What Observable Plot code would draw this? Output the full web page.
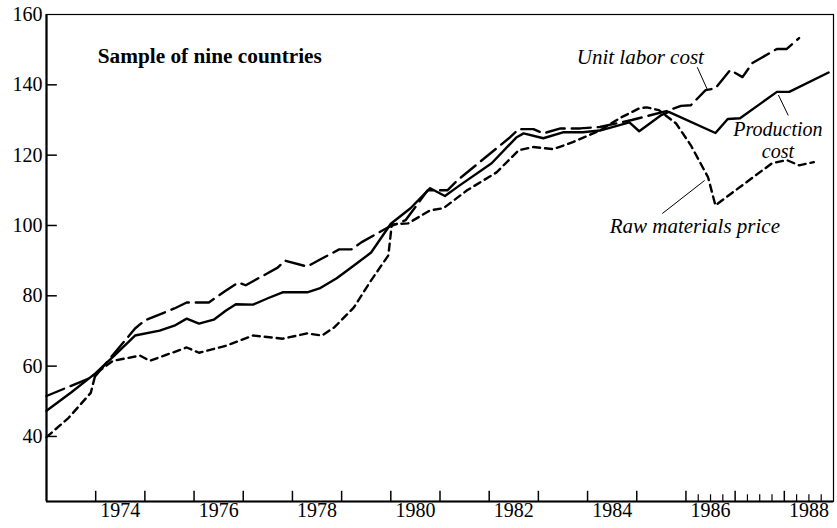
<!DOCTYPE html>
<html>
<head>
<meta charset="utf-8">
<script src="https://cdn.jsdelivr.net/npm/d3@7"></script>
<script src="https://cdn.jsdelivr.net/npm/@observablehq/plot@0.6"></script>
<style>
  html, body { margin: 0; padding: 0; background: #fff; }
</style>
</head>
<body>
<div id="chart"></div>
<script>
// ---- Data (decimal years, index values) ----
const prodT = [1973.0, 1973.5, 1974.0, 1974.4, 1974.8, 1975.3, 1975.6, 1975.85, 1976.1, 1976.4, 1976.65, 1976.85, 1977.2, 1977.5, 1977.8, 1978.3, 1978.55, 1978.9, 1979.25, 1979.6, 1980.0, 1980.4, 1980.8, 1981.1, 1981.4, 1982.05, 1982.55, 1982.7, 1983.1, 1983.5, 1983.9, 1984.25, 1984.85, 1985.05, 1985.5, 1985.65, 1986.6, 1986.85, 1987.1, 1987.85, 1988.1, 1988.9];
const prodV = [47.3, 52.5, 58, 63.3, 68.7, 70.1, 71.5, 73.5, 72.1, 73.2, 75.8, 77.6, 77.5, 79.3, 81, 81, 82.1, 85, 88.6, 92.3, 100.5, 104.9, 110.6, 108.4, 111.4, 117.7, 125, 126.2, 124.8, 126.5, 126.5, 127, 129.3, 126.8, 131.4, 132.3, 126.3, 130.3, 130.5, 138, 138, 143.5];

const laborT = [1973.0, 1974.0, 1974.8, 1975.0, 1975.6, 1975.85, 1976.3, 1976.65, 1976.9, 1977.05, 1977.7, 1977.85, 1978.3, 1978.6, 1978.95, 1979.2, 1979.4, 1979.95, 1980.3, 1980.75, 1981.15, 1981.35, 1982.4, 1982.6, 1982.9, 1983.1, 1983.45, 1983.85, 1984.25, 1984.9, 1985.6, 1985.9, 1986.1, 1986.4, 1986.6, 1986.9, 1987.15, 1987.35, 1987.85, 1988.05, 1988.3];
const laborV = [51.5, 57.3, 70.7, 73, 76.4, 78.1, 78.1, 81.5, 83.8, 83, 88, 90, 88.3, 90.6, 93.2, 93.2, 95.2, 99.5, 101.5, 110, 110, 112.8, 124.8, 127.4, 127.4, 126.2, 127.6, 127.6, 128, 130, 132.5, 134, 134.2, 138.5, 139, 144.2, 142.2, 146.2, 150.2, 150.2, 153.3];

const rawT = [1973.0, 1973.45, 1973.9, 1974.0, 1974.35, 1974.9, 1975.1, 1975.85, 1976.1, 1976.65, 1977.2, 1977.8, 1978.3, 1978.6, 1978.85, 1979.25, 1979.6, 1979.95, 1980.02, 1980.35, 1980.8, 1981.07, 1981.55, 1982.15, 1982.6, 1982.9, 1983.3, 1983.7, 1984.25, 1984.65, 1985.05, 1985.2, 1985.45, 1985.8, 1986.1, 1986.45, 1986.6, 1986.95, 1987.75, 1988.05, 1988.3, 1988.6];
const rawV = [39.8, 45.3, 52.4, 57.9, 61.5, 63, 61.5, 65.3, 63.8, 65.8, 68.7, 67.8, 69.3, 68.7, 71, 76.7, 84.4, 91.5, 100.3, 100.6, 104.3, 104.9, 110, 115.1, 121.4, 122.3, 121.7, 123.7, 127, 130.5, 133.3, 133.6, 132.8, 129, 122.8, 113.7, 105.7, 109.4, 117.7, 118.6, 117.1, 118];

const yTicks = [40, 60, 80, 100, 120, 140, 160];
const xLabelYears = [1974, 1976, 1978, 1980, 1982, 1984, 1986, 1988];
const majorTickYears = [1974, 1975, 1976, 1977, 1978, 1979, 1980, 1981, 1982, 1983, 1984, 1985, 1986, 1987, 1988];
const minorTickYears = [1986.25, 1986.5, 1986.75, 1987.25, 1987.5, 1987.75, 1988.25, 1988.5, 1988.75];

// annotations (data coordinates)
const annotations = [
  {x: 1974.04, y: 146.2, text: "Sample of nine countries", weight: "bold", style: "normal", size: 21.3, anchor: "start", lh: 1},
  {x: 1983.78, y: 145.9, text: "Unit labor cost", weight: "normal", style: "italic", size: 21, anchor: "start", lh: 1},
  {x: 1987.87, y: 119.3, text: "Production\ncost", weight: "normal", style: "italic", size: 20, anchor: "middle", lh: 1.1},
  {x: 1984.45, y: 97.75, text: "Raw materials price", weight: "normal", style: "italic", size: 21, anchor: "start", lh: 1}
];
const leaders = [
  {x1: 1986.23, y1: 145.0, x2: 1986.44, y2: 138.5},
  {x1: 1988.08, y1: 131.3, x2: 1987.88, y2: 137.1},
  {x1: 1985.52, y1: 103.4, x2: 1986.38, y2: 112.8}
];

const X0 = 1973, X1 = 1989, Y0 = 21.5, Y1 = 160;

const toRows = (T, V) => T.map((t, i) => ({t, v: V[i]}));
const prod = toRows(prodT, prodV);
const labor = toRows(laborT, laborV);
const raw = toRows(rawT, rawV);

const font = "'Liberation Serif', 'Times New Roman', serif";

const chart = Plot.plot({
  width: 837,
  height: 528,
  marginLeft: 46,
  marginRight: 4,
  marginTop: 14,
  marginBottom: 27,
  style: {fontFamily: font, fontSize: "17px", color: "#000", background: "#fff"},
  x: {domain: [X0, X1]},
  y: {domain: [Y0, Y1]},
  marks: [
    // axis labels
    Plot.axisY({ticks: yTicks, tickSize: 0, tickPadding: 4, fontSize: 20, label: null}),
    Plot.axisX(xLabelYears.map(d => d + 0.5), {tickSize: 0, tickPadding: 1, fontSize: 20, tickFormat: d => String(Math.floor(d)), label: null}),
    // inward ticks
    Plot.ruleY(yTicks.filter(d => d < Y1), {x1: X0, x2: X0 + 0.22, stroke: "#000", strokeWidth: 1.5}),
    Plot.ruleX(majorTickYears, {y1: Y0, y2: Y0 + 2.9, stroke: "#000", strokeWidth: 1.5}),
    Plot.ruleX(minorTickYears, {y1: Y0, y2: Y0 + 1.9, stroke: "#000", strokeWidth: 1.2}),
    // frame
    Plot.frame({stroke: "#000", strokeWidth: 1.2}),
    Plot.ruleX([X0], {stroke: "#000", strokeWidth: 2.2}),
    Plot.ruleY([Y0], {stroke: "#000", strokeWidth: 2.2}),
    // series
    Plot.line(raw, {x: "t", y: "v", stroke: "#000", strokeWidth: 2.4, strokeDasharray: "7,5", strokeLinejoin: "round"}),
    Plot.line(labor, {x: "t", y: "v", stroke: "#000", strokeWidth: 2.4, strokeDasharray: "19,7", strokeLinejoin: "round"}),
    Plot.line(prod, {x: "t", y: "v", stroke: "#000", strokeWidth: 2.4, strokeLinejoin: "round"}),
    // leaders
    Plot.link(leaders, {x1: "x1", y1: "y1", x2: "x2", y2: "y2", stroke: "#000", strokeWidth: 1}),
    // annotation texts
    ...annotations.map(a => Plot.text([a], {
      x: "x", y: "y", text: "text",
      textAnchor: a.anchor, lineAnchor: "bottom", lineHeight: a.lh,
      fontSize: a.size, fontWeight: a.weight, fontStyle: a.style,
      fontFamily: font, fill: "#000"
    }))
  ]
});

document.getElementById("chart").appendChild(chart);
</script>
</body>
</html>
